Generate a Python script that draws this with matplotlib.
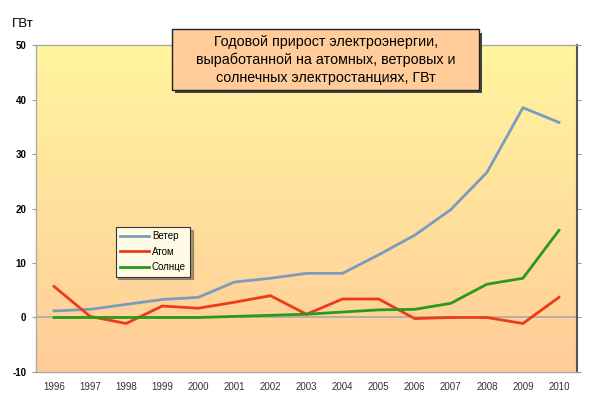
import numpy as np
import matplotlib.pyplot as plt
from matplotlib.colors import LinearSegmentedColormap
from matplotlib.patches import FancyBboxPatch

years = [1996, 1997, 1998, 1999, 2000, 2001, 2002, 2003, 2004, 2005, 2006, 2007, 2008, 2009, 2010]
wind = [1.2, 1.5, 2.4, 3.3, 3.7, 6.5, 7.2, 8.1, 8.1, 11.5, 15.1, 19.8, 26.6, 38.5, 35.8]
nuclear = [5.7, 0.2, -1.1, 2.1, 1.7, 2.8, 4.0, 0.6, 3.4, 3.4, -0.2, 0.0, 0.0, -1.1, 3.7]
solar = [0.0, 0.0, 0.0, 0.0, 0.0, 0.2, 0.4, 0.6, 1.0, 1.4, 1.5, 2.6, 6.1, 7.2, 16.0]

plt.rcParams['font.family'] = ['Liberation Sans', 'DejaVu Sans']

fig = plt.figure(figsize=(6, 3.97), dpi=100)
ax = fig.add_axes([0.06, 0.063, 0.9017, 0.8236])

# gradient background
cmap = LinearSegmentedColormap.from_list('bg', ['#FFCC99', '#FFF59F'])
grad = np.linspace(0, 1, 256).reshape(-1, 1)
ax.imshow(grad, aspect='auto', cmap=cmap, origin='lower',
          extent=[1995.5, 2010.5, -10, 50], zorder=0)

ax.axhline(0, color='#A8A8A8', lw=1.2, zorder=1)

ax.plot(years, wind, color='#7A9CBF', lw=2, label='Ветер', zorder=3)
ax.plot(years, nuclear, color='#EE3A16', lw=2, label='Атом', zorder=3)
ax.plot(years, solar, color='#2A9A1A', lw=2, label='Солнце', zorder=3)

ax.set_xlim(1995.5, 2010.5)
ax.set_ylim(-10, 50)
ax.set_xticks(years)
ax.set_xticklabels([str(y) for y in years], fontsize=7, color='#333333')
ax.set_yticks(range(-10, 51, 10))
ax.set_yticklabels([str(v) for v in range(-10, 51, 10)], fontsize=7, fontweight='bold')
ax.tick_params(axis='x', length=0, pad=7)
ax.tick_params(axis='y', length=3, color='#999999', pad=4, right=True, direction='out')

for s in ['left', 'top', 'bottom']:
    ax.spines[s].set_color('#AAAAAA')
    ax.spines[s].set_linewidth(1)
ax.spines['right'].set_color('#555555')
ax.spines['right'].set_linewidth(1.5)

fig.text(0.02, 0.932, 'ГВт', fontsize=9.5)

# title box with shadow
title = ('Годовой прирост электроэнергии,\n'
         'выработанной на атомных, ветровых и\n'
         'солнечных электростанциях, ГВт')
fig.patches.append(FancyBboxPatch((0.292, 0.765), 0.512, 0.153, boxstyle='square,pad=0',
                                  transform=fig.transFigure, fc='#444444', ec='none', zorder=5))
fig.patches.append(FancyBboxPatch((0.287, 0.773), 0.512, 0.153, boxstyle='square,pad=0',
                                  transform=fig.transFigure, fc='#FFCC9A', ec='#222222', lw=1, zorder=6))
fig.text(0.543, 0.849, title, ha='center', va='center', fontsize=10.3,
         linespacing=1.35, zorder=7)

leg = ax.legend(loc='upper left', bbox_to_anchor=(0.138, 0.458), fontsize=7,
                frameon=True, fancybox=False, shadow=True, handlelength=3.0,
                borderpad=0.45, labelspacing=0.55, handletextpad=0.3)
leg.get_frame().set_facecolor('#FFFBE6')
leg.get_frame().set_edgecolor('#333333')
leg.get_frame().set_linewidth(0.8)
leg.get_frame().set_alpha(1)

fig.savefig('out.png', dpi=100)
